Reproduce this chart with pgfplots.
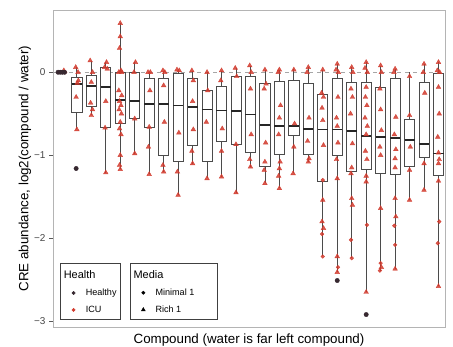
\documentclass[border=0pt]{standalone}
\usepackage{fontspec}
\setmainfont{Liberation Sans}
\usepackage{pgfplots}
\pgfplotsset{compat=1.18}
\definecolor{icured}{RGB}{210,58,45}
\definecolor{healthy}{RGB}{55,40,48}
\definecolor{boxc}{RGB}{75,75,75}
\definecolor{frame}{RGB}{180,180,180}
% box: position, lower whisker, lower quartile, median, upper quartile, upper whisker
\newcommand{\bx}[6]{%
  \pgfmathsetmacro{\xl}{#1-0.35}\pgfmathsetmacro{\xr}{#1+0.35}%
  \edef\tmp{%
  \noexpand\addplot[boxc, line width=0.8bp, forget plot] coordinates {(#1,#2)(#1,#3)};
  \noexpand\addplot[boxc, line width=0.8bp, forget plot] coordinates {(#1,#5)(#1,#6)};
  \noexpand\addplot[boxc, fill=white, line width=0.8bp, forget plot] coordinates {(\xl,#3)(\xr,#3)(\xr,#5)(\xl,#5)} -- cycle;
  \noexpand\addplot[black!85, line width=1.8bp, forget plot] coordinates {(\xl,#4)(\xr,#4)};
  }\tmp}
\begin{document}
\begin{tikzpicture}
\begin{axis}[
  scale only axis, width=392bp, height=317bp,
  xmin=-0.65, xmax=26.45, ymin=-3.07, ymax=0.75,
  xtick=\empty, ytick={-3,-2,-1,0}, yticklabels={−3,−2,−1,0},
  ytick pos=left,
  axis line style={draw=frame, line width=0.8bp},
  tick align=outside, major tick length=3.5bp,
  ytick style={draw=gray!70!black, line width=0.6bp},
  yticklabel style={font=\fontsize{10}{12}\selectfont, text=gray!55!black, xshift=-0.5bp},
  every axis x label/.style={at={(axis description cs:0.5,0)}, anchor=center, yshift=-13bp, font=\fontsize{13.4}{16}\selectfont},
  every axis y label/.style={at={(axis description cs:0,0.5)}, xshift=-28bp, rotate=90, anchor=center, font=\fontsize{13.4}{16}\selectfont},
  xlabel={Compound (water is far left compound)},
  ylabel={CRE abundance, log2(compound / water)},
  legend image code/.code={\path (0bp,0bp) (21bp,0bp); \draw[#1] plot coordinates {(11bp,0bp)};},
  legend style={at={(axis description cs:0.018,0.025)}, anchor=south west, draw=black!75, line width=0.5bp,
    fill=white, font=\fontsize{9.1}{11}\selectfont, inner xsep=2bp, inner ysep=3bp, row sep=5bp, cells={anchor=west}},
  legend cell align=left,
]
\addplot[gray!70, dash pattern=on 4bp off 4bp, line width=0.6bp, forget plot] coordinates {(-0.65,0) (26.45,0)};
\bx{1}{-0.69}{-0.49}{-0.145}{-0.06}{0.06}
\bx{2}{-0.52}{-0.41}{-0.17}{-0.04}{0.14}
\bx{3}{-1.21}{-0.67}{-0.18}{0.06}{0.12}
\bx{4}{-1.17}{-0.62}{-0.33}{0.0}{0.59}
\bx{5}{-0.98}{-0.56}{-0.35}{0.0}{0.12}
\bx{6}{-1.23}{-0.66}{-0.38}{-0.08}{0.0}
\bx{7}{-1.2}{-1.0}{-0.38}{-0.08}{0.02}
\bx{8}{-1.48}{-1.07}{-0.40}{-0.01}{0.03}
\bx{9}{-1.1}{-0.88}{-0.42}{-0.08}{0.02}
\bx{10}{-1.28}{-1.08}{-0.45}{-0.22}{0.0}
\bx{11}{-1.26}{-0.83}{-0.46}{-0.17}{0.02}
\bx{12}{-1.45}{-0.87}{-0.47}{-0.05}{0.05}
\bx{13}{-1.14}{-0.97}{-0.51}{-0.05}{0.08}
\bx{14}{-1.34}{-1.14}{-0.64}{-0.14}{0.03}
\bx{15}{-1.40}{-0.99}{-0.65}{-0.11}{0.03}
\bx{16}{-1.22}{-0.76}{-0.65}{-0.10}{0.04}
\bx{17}{-1.08}{-0.99}{-0.68}{-0.14}{0.06}
\bx{18}{-2.22}{-1.32}{-0.69}{-0.27}{0.03}
\bx{19}{-2.41}{-1.0}{-0.69}{-0.07}{0.10}
\bx{20}{-2.24}{-1.2}{-0.71}{-0.12}{0.06}
\bx{21}{-2.65}{-1.17}{-0.77}{-0.12}{0.12}
\bx{22}{-2.39}{-1.22}{-0.78}{-0.18}{0.08}
\bx{23}{-2.37}{-1.23}{-0.79}{-0.08}{0.04}
\bx{24}{-1.54}{-1.14}{-0.82}{-0.57}{0.0}
\bx{25}{-1.42}{-1.03}{-0.86}{-0.12}{0.10}
\bx{26}{-2.58}{-1.24}{-0.98}{-0.02}{0.12}
% ICU, Rich 1 (red triangles)
\addplot[only marks, mark=triangle*, mark size=2.7bp, icured, mark options={fill opacity=0.85, draw opacity=0.85}, forget plot] coordinates {
(0.1,0.02)
(0.92,0.06)(1.08,0.0)(1.03,-0.13)(0.95,-0.3)(1.1,-0.1)(1.0,-0.69)
(1.92,0.14)(2.08,0.0)(2.0,-0.12)(1.95,-0.37)(2.08,-0.45)(2.0,-0.52)
(3.05,0.12)(2.92,0.06)(3.1,0.04)(3.0,-0.35)(2.95,-0.67)(3.0,-1.21)
(4.0,0.59)(4.0,0.43)(3.95,0.29)(3.9,0.0)(4.1,0.0)(4.05,0.02)(3.9,-0.22)(4.1,-0.28)(3.95,-0.35)(4.05,-0.4)(3.92,-0.45)(4.08,-0.5)(4.0,-0.6)(3.95,-0.68)(4.05,-0.75)(4.0,-1.0)(3.95,-1.12)(4.0,-1.17)
(5.05,0.12)(4.95,0.0)(5.0,-0.56)(5.0,-0.98)
(5.92,0.0)(6.08,0.0)(6.05,-0.22)(6.0,-0.66)(5.95,-0.9)(6.0,-1.23)
(6.95,0.02)(7.08,0.0)(7.0,-0.16)(7.05,-0.6)(6.95,-1.12)(7.0,-1.2)
(7.92,0.03)(8.08,0.02)(8.05,-0.73)(7.95,-1.2)(8.0,-1.48)
(8.95,0.02)(9.05,-0.1)(9.0,-0.35)(9.05,-0.69)(8.95,-0.95)(9.0,-1.1)
(10.0,0.0)(10.05,-0.22)(9.95,-0.6)(10.0,-1.28)
(11.0,0.02)(10.95,-0.1)(11.05,-0.68)(11.0,-0.95)(11.0,-1.26)
(11.95,0.05)(12.05,-0.05)(12.0,-0.87)(12.0,-1.45)
(12.95,0.08)(13.05,0.0)(13.0,-0.2)(13.05,-0.75)(12.95,-1.05)(13.0,-1.14)
(14.0,0.03)(14.08,-0.14)(13.95,-0.2)(14.05,-0.85)(14.0,-1.08)(13.95,-1.18)(14.0,-1.34)
(15.0,0.03)(14.92,0.0)(15.08,-0.4)(15.0,-0.55)(14.95,-0.75)(15.05,-1.08)(15.0,-1.16)(14.95,-1.25)(15.0,-1.40)
(16.0,0.03)(16.05,-0.62)(16.0,-0.9)(15.95,-1.22)
(17.0,0.06)(16.92,0.0)(17.05,-0.55)(16.95,-0.83)(17.05,-1.04)(17.0,-1.08)
(18.0,0.03)(17.92,-0.25)(18.05,-0.3)(17.95,-0.43)(18.0,-0.58)(18.05,-0.88)(18.0,-1.54)(17.95,-1.80)(18.05,-1.88)
(19.0,0.1)(18.92,0.03)(19.08,0.0)(19.05,-0.3)(18.95,-0.55)(19.0,-0.65)(19.05,-0.85)(18.95,-1.05)(19.0,-1.28)(19.0,-2.22)(19.0,-2.41)
(20.0,0.06)(20.08,0.0)(19.95,-0.2)(20.05,-0.3)(19.92,-0.5)(20.05,-0.86)(20.0,-1.15)(19.95,-1.22)(20.0,-1.52)(20.05,-1.60)
(21.0,0.12)(20.92,0.05)(21.08,0.0)(21.0,-0.18)(20.95,-0.3)(21.05,-0.4)(20.92,-0.55)(21.08,-0.65)(21.0,-0.75)(20.95,-0.95)(21.05,-1.05)(21.0,-1.25)(21.0,-1.32)(21.0,-2.65)
(22.0,0.08)(22.05,0.0)(21.95,-0.2)(22.0,-0.45)(22.05,-0.7)(21.95,-0.9)(22.0,-1.0)(22.0,-1.64)(22.05,-2.35)
(23.0,0.04)(22.92,0.0)(23.05,-0.54)(22.95,-0.75)(23.05,-0.93)(23.0,-1.04)(23.0,-1.15)(23.0,-1.52)(23.05,-1.74)(23.0,-2.37)
(24.0,-0.05)(24.0,-0.52)(24.05,-0.9)(24.0,-1.18)(24.0,-1.54)
(25.0,0.1)(24.95,0.0)(25.05,-0.25)(25.0,-1.1)(25.0,-1.42)
(26.0,0.12)(25.92,0.02)(26.08,0.0)(26.0,-0.18)(26.05,-0.5)(25.95,-0.78)(26.0,-0.97)(26.05,-1.05)(26.0,-1.1)(26.0,-1.31)(26.0,-2.58)
};
% ICU, Minimal 1 (red circles)
\addplot[only marks, mark=*, mark size=1.9bp, icured, mark options={fill opacity=0.85, draw opacity=0.85}, forget plot] coordinates {
(0.2,0.0)(18.0,-1.3)(17.95,-1.95)(18.0,-2.22)(19.05,-2.35)(20.0,-2.24)(19.95,-2.02)(21.05,-1.84)
(22.0,-2.30)(21.95,-2.39)(22.95,-1.85)(23.0,-2.08)(26.05,-1.80)(25.95,-2.06)
};
% Healthy, Minimal 1 (dark circles)
\addplot[only marks, mark=*, mark size=2.2bp, healthy, forget plot] coordinates {
(-0.3,0.0)(-0.15,0.0)(0.0,0.0)(0.15,0.0)(0.95,-1.16)(19.0,-2.51)(21.0,-2.92)
};
\addlegendimage{empty legend}\addlegendentry{\makebox[0pt][l]{\hspace*{-22bp}\fontsize{11}{13}\selectfont\raisebox{0pt}[10bp][4bp]{Health}}}
\addlegendimage{only marks, mark=*, mark size=1.6bp, healthy}\addlegendentry{\makebox[30bp][l]{Healthy}}
\addlegendimage{only marks, mark=*, mark size=1.6bp, icured}\addlegendentry{ICU}
\end{axis}
\begin{axis}[
  scale only axis, width=392bp, height=317bp, hide axis,
  xmin=0, xmax=1, ymin=0, ymax=1,
  legend image code/.code={\path (0bp,0bp) (21bp,0bp); \draw[#1] plot coordinates {(11bp,0bp)};},
  legend style={at={(axis description cs:0.196,0.025)}, anchor=south west, draw=black!75, line width=0.5bp,
    fill=white, font=\fontsize{9.1}{11}\selectfont, inner xsep=2bp, inner ysep=3bp, row sep=5bp, cells={anchor=west}},
  legend cell align=left,
]
\addlegendimage{empty legend}\addlegendentry{\makebox[0pt][l]{\hspace*{-22bp}\fontsize{11}{13}\selectfont\raisebox{0pt}[10bp][4bp]{Media}}}
\addlegendimage{only marks, mark=*, mark size=1.6bp, black}\addlegendentry{\makebox[58bp][l]{Minimal 1}}
\addlegendimage{only marks, mark=triangle*, mark size=2.2bp, black}\addlegendentry{Rich 1}
\end{axis}
\pgfresetboundingbox
\path[use as bounding box] (-53bp,-20bp) rectangle (400bp,327bp);
\end{tikzpicture}
\end{document}
